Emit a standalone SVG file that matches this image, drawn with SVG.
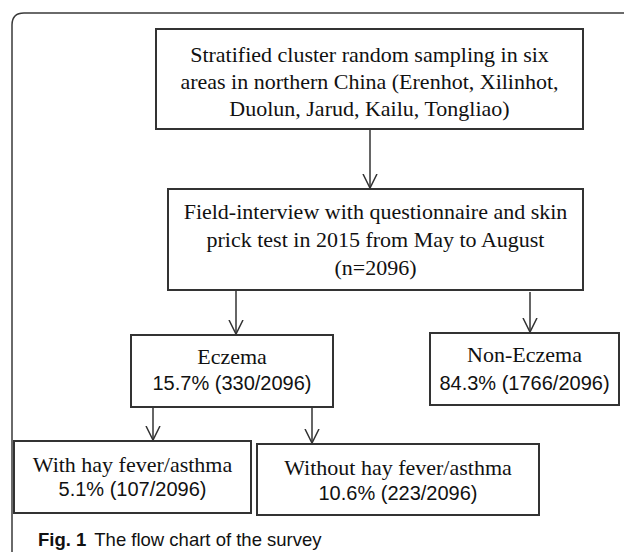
<svg xmlns="http://www.w3.org/2000/svg" width="624" height="552" viewBox="0 0 624 552">
<style>
.frame{fill:none;stroke:#3a3a3a;stroke-width:1.5}
.box{fill:#fff;stroke:#333;stroke-width:2}
.t{font-family:"Liberation Serif","Times New Roman",serif;font-size:22px;fill:#111;text-anchor:middle}
.n{font-family:"Liberation Sans",Arial,sans-serif;font-size:20px;fill:#111;text-anchor:middle}
.c{font-family:"Liberation Sans",Arial,sans-serif;font-size:18.5px;fill:#111}
.conn line{stroke:#333;stroke-width:1.5;fill:none}
</style>
<defs>
<marker id="arr" markerWidth="16" markerHeight="16" refX="14" refY="8" orient="auto" markerUnits="userSpaceOnUse">
<path d="M0,1 L14,8 L0,15" fill="none" stroke="#333" stroke-width="1.5"/>
</marker>
</defs>
<rect width="624" height="552" fill="#fff"/>
<path class="frame" d="M12,552 L12,25 Q12,13 24,13 L624,13"/>
<g id="box1">
<rect class="box" x="156" y="29" width="427" height="100"/>
<text class="t" x="369.5" y="62">Stratified cluster random sampling in six</text>
<text class="t" x="369.5" y="89">areas in northern China (Erenhot, Xilinhot,</text>
<text class="t" x="369.5" y="116">Duolun, Jarud, Kailu, Tongliao)</text>
</g>
<g id="box2">
<rect class="box" x="168" y="189" width="415" height="101"/>
<text class="t" x="375.5" y="219">Field-interview with questionnaire and skin</text>
<text class="t" x="375.5" y="247">prick test in 2015 from May to August</text>
<text class="t" x="375.5" y="275">(n=2096)</text>
</g>
<g id="eczema">
<rect class="box" x="131" y="335" width="202" height="72"/>
<text class="t" x="232" y="364">Eczema</text>
<text class="n" x="232" y="390">15.7% (330/2096)</text>
</g>
<g id="noneczema">
<rect class="box" x="430" y="333" width="189" height="72"/>
<text class="t" x="524.5" y="362">Non-Eczema</text>
<text class="n" x="524.5" y="390">84.3% (1766/2096)</text>
</g>
<g id="withhay">
<rect class="box" x="14" y="441" width="237" height="72"/>
<text class="t" x="132.5" y="472">With hay fever/asthma</text>
<text class="n" x="132.5" y="496">5.1% (107/2096)</text>
</g>
<g id="withouthay">
<rect class="box" x="257" y="444" width="282" height="71"/>
<text class="t" x="398" y="475">Without hay fever/asthma</text>
<text class="n" x="398" y="500">10.6% (223/2096)</text>
</g>
<g id="connectors" class="conn">
<line x1="370" y1="129" x2="370" y2="188" marker-end="url(#arr)"/>
<line x1="236" y1="290" x2="236" y2="334" marker-end="url(#arr)"/>
<line x1="530" y1="292" x2="530" y2="332" marker-end="url(#arr)"/>
<line x1="153" y1="407" x2="153" y2="440" marker-end="url(#arr)"/>
<line x1="312" y1="407" x2="312" y2="443" marker-end="url(#arr)"/>
</g>
<g id="caption">
<text class="c" x="38" y="546"><tspan font-weight="bold">Fig. 1</tspan><tspan dx="8">The flow chart of the survey</tspan></text>
</g>
</svg>
